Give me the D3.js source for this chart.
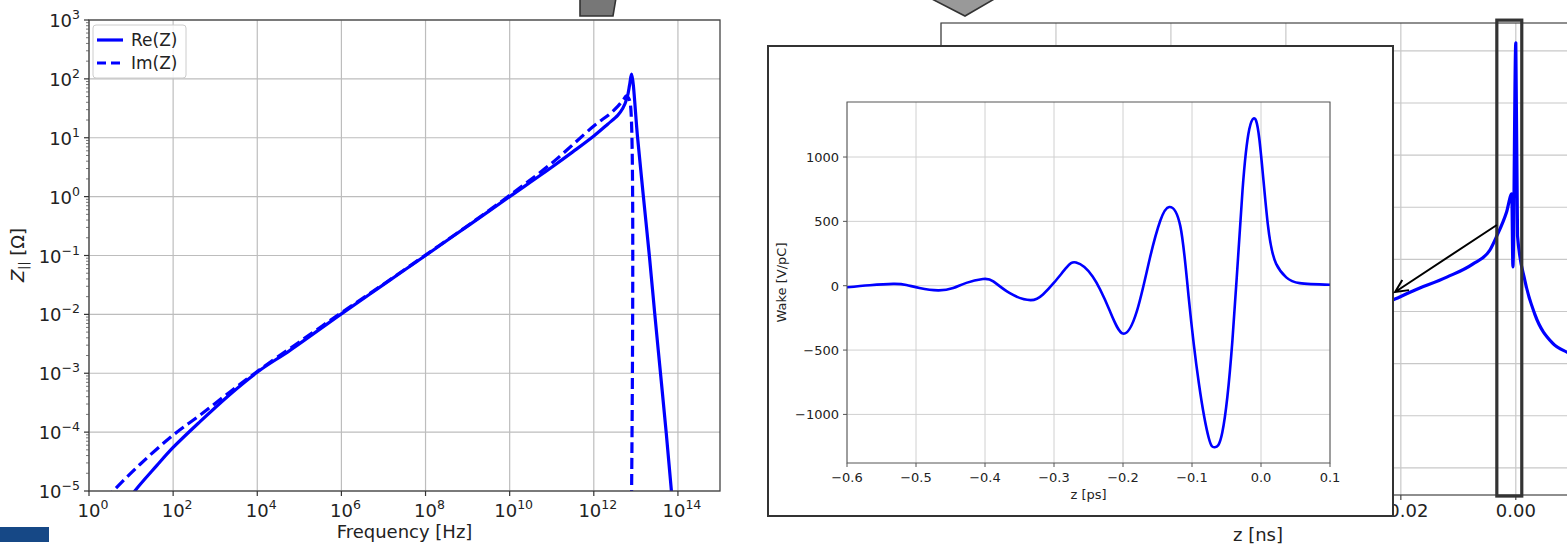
<!DOCTYPE html>
<html><head><meta charset="utf-8">
<script src="https://cdn.jsdelivr.net/npm/d3@7"></script>
<style>
html,body{margin:0;padding:0;background:#fff;}
svg{display:block;font-family:"DejaVu Sans",sans-serif;}
</style></head><body>
<svg id="c" width="1567" height="544"></svg>
<script>
// ---------------- Impedance (left chart) ----------------
const reFreq = [9, 12.3, 40.7, 1e2, 436, 2240, 1.05e4, 6.0e4, 1e6, 1e7, 1e8, 1e9, 1e10, 1e11, 3.16e11, 1e12, 2.14e12, 3.7e12, 4.9e12, 6.2e12, 7.1e12, 7.9e12, 1.1e13, 1.51e13, 2.09e13, 2.82e13, 3.85e13, 5.25e13, 7.0e13, 9e13];
const reZ    = [7e-6, 1e-5, 2.7e-5, 5.5e-5, 1.51e-4, 4.37e-4, 1.07e-3, 2.45e-3, 1.02e-2, 3.2e-2, 0.1, 0.316, 1.0, 3.16, 5.75, 10.7, 17, 24, 31.6, 48, 79, 120, 10, 1, 0.1, 0.01, 1e-3, 1e-4, 1e-5, 1e-6];
const imFreq = [2.5, 3.8, 16.2, 1e2, 436, 2240, 1.05e4, 1e5, 1e6, 1e7, 1e8, 1e9, 1e10, 1e11, 1e12, 2.45e12, 3.8e12, 5.2e12, 5.9e12, 6.6e12, 7.4e12, 7.45e12];
const imZ    = [7e-6, 1e-5, 2.82e-5, 8.9e-5, 1.95e-4, 4.8e-4, 1.1e-3, 3.4e-3, 1.07e-2, 3.25e-2, 0.102, 0.32, 1.05, 3.7, 15.8, 25.7, 34.7, 45.7, 51.3, 47.9, 37, 1e-7];
const freqTicks = [1e0, 1e2, 1e4, 1e6, 1e8, 1e10, 1e12, 1e14];
const zTicks = [1e-5, 1e-4, 1e-3, 1e-2, 1e-1, 1e0, 1e1, 1e2, 1e3];
const seriesNames = ["Re(Z)", "Im(Z)"];

// ---------------- Wake inset ----------------
const wakeZps = [-0.6, -0.567, -0.533, -0.514, -0.495, -0.468, -0.446, -0.427, -0.403, -0.388, -0.364, -0.334, -0.316, -0.3, -0.282, -0.268, -0.244, -0.2195, -0.2, -0.18, -0.161, -0.146, -0.133, -0.117, -0.105, -0.09, -0.0756, -0.067, -0.0561, -0.0415, -0.0268, -0.017, -0.0107, -0.0024, 0.0098, 0.022, 0.0366, 0.056, 0.1];
const wakeVal = [-12, 4, 14, 6, -18, -36, -18, 22, 52, 34, -58, -112, -68, 24, 140, 180, 72, -190, -372, -200, 215, 505, 612, 465, -80, -760, -1185, -1255, -1140, -430, 740, 1215, 1300, 1140, 480, 170, 65, 20, 8];
const wakeTicksX = [-0.6, -0.5, -0.4, -0.3, -0.2, -0.1, 0.0, 0.1];
const wakeTicksY = [-1000, -500, 0, 500, 1000];

// ---------------- Long-range wake (background) ----------------
const longZns = [-0.1, -0.08, -0.06, -0.04, -0.03, -0.0214, -0.0179, -0.012, -0.0075, -0.0045, -0.0033, -0.0016, -0.0007, -0.0005, 0.0, 0.0003, 0.0016, 0.0033, 0.0064, 0.0089, 0.0103];
const longVal = [20, 40, 80, 140, 190, 244, 279, 332, 382, 436, 490, 582, 651, 371, 1231, 490, 317, 190, 79, 44, 30];
const longTicksX = [-0.10, -0.08, -0.06, -0.04, -0.02, 0.00];
const longTicksY = [-400, -200, 0, 200, 400, 600, 800, 1000, 1200];

const svg = d3.select("#c");
const blue = "#0000ff";
const fontTick = 18;

// ================= Background long-range wake plot =================
const xB = d3.scaleLinear().domain([-0.1, 0.0103]).range([941, 1575]);
const yB = d3.scaleLinear().domain([-504, 1307]).range([495, 23]);
svg.append("clipPath").attr("id","clipB").append("rect")
  .attr("x", xB.range()[0]).attr("y", yB.range()[1])
  .attr("width", xB.range()[1]-xB.range()[0]).attr("height", yB.range()[0]-yB.range()[1]);
const gB = svg.append("g");
gB.append("g").selectAll("line").data(longTicksX).join("line")
  .attr("x1", d=>xB(d)).attr("x2", d=>xB(d)).attr("y1", yB.range()[1]).attr("y2", yB.range()[0])
  .attr("stroke", "#c8c8c8").attr("stroke-width", 1.2);
gB.append("g").selectAll("line").data(longTicksY).join("line")
  .attr("x1", xB.range()[0]).attr("x2", xB.range()[1]).attr("y1", d=>yB(d)).attr("y2", d=>yB(d))
  .attr("stroke", "#c8c8c8").attr("stroke-width", 1.2);
gB.append("path").datum(longZns.map((z,i)=>[z,longVal[i]]))
  .attr("clip-path","url(#clipB)")
  .attr("fill","none").attr("stroke",blue).attr("stroke-width",3.2).attr("stroke-linejoin","round")
  .attr("d", d3.line().x(d=>xB(d[0])).y(d=>yB(d[1])).curve(d3.curveMonotoneX));
gB.append("rect").attr("x", xB.range()[0]).attr("y", yB.range()[1])
  .attr("width", xB.range()[1]-xB.range()[0]).attr("height", yB.range()[0]-yB.range()[1])
  .attr("fill","none").attr("stroke","#444").attr("stroke-width",1.2);
gB.append("g").selectAll("line").data(longTicksX).join("line")
  .attr("x1", d=>xB(d)).attr("x2", d=>xB(d)).attr("y1", yB.range()[0]).attr("y2", yB.range()[0]+5)
  .attr("stroke","#444").attr("stroke-width",1.2);
gB.append("g").selectAll("text").data(longTicksX).join("text")
  .attr("x", d=>xB(d)).attr("y", yB.range()[0]+22).attr("text-anchor","middle")
  .attr("font-size", fontTick).attr("fill","#222").text(d=>d3.format(".2f")(d));
// only the top y tick label peeks out above the inset; the rest lie fully under it
gB.append("g").selectAll("text").data(longTicksY.slice(-1)).join("text")
  .attr("x", xB.range()[0]-8).attr("y", d=>yB(d)+7).attr("text-anchor","end")
  .attr("font-size", fontTick).attr("fill","#222").text(d=>d3.format("d")(d));
gB.append("text").attr("x", (xB.range()[0]+xB.range()[1])/2).attr("y", 541)
  .attr("text-anchor","middle").attr("font-size",18).attr("fill","#222").text("z [ns]");

// spike highlight rectangle
gB.append("rect")
  .attr("x", xB(-0.0033)).attr("y", yB(1318))
  .attr("width", xB(0.00104)-xB(-0.0033)).attr("height", yB(-508)-yB(1318))
  .attr("fill","none").attr("stroke","#333").attr("stroke-width",3.2);

// ================= Inset =================
const gI = svg.append("g");
gI.append("rect").attr("x",768).attr("y",46).attr("width",625).attr("height",470)
  .attr("fill","#fff").attr("stroke","#333").attr("stroke-width",2);
const xI = d3.scaleLinear().domain([-0.6, 0.1]).range([847, 1330]);
const yI = d3.scaleLinear().domain([-1377.5, 1427.5]).range([463, 102]);
gI.append("g").selectAll("line").data(wakeTicksX).join("line")
  .attr("x1", d=>xI(d)).attr("x2", d=>xI(d)).attr("y1", yI.range()[1]).attr("y2", yI.range()[0])
  .attr("stroke","#d0d0d0").attr("stroke-width",1);
gI.append("g").selectAll("line").data(wakeTicksY).join("line")
  .attr("x1", xI.range()[0]).attr("x2", xI.range()[1]).attr("y1", d=>yI(d)).attr("y2", d=>yI(d))
  .attr("stroke","#d0d0d0").attr("stroke-width",1);
gI.append("path").datum(wakeZps.map((z,i)=>[z,wakeVal[i]]))
  .attr("fill","none").attr("stroke",blue).attr("stroke-width",2.6).attr("stroke-linejoin","round")
  .attr("d", d3.line().x(d=>xI(d[0])).y(d=>yI(d[1])).curve(d3.curveNatural));
gI.append("rect").attr("x", xI.range()[0]).attr("y", yI.range()[1])
  .attr("width", xI.range()[1]-xI.range()[0]).attr("height", yI.range()[0]-yI.range()[1])
  .attr("fill","none").attr("stroke","#555").attr("stroke-width",1);
gI.append("g").selectAll("line").data(wakeTicksX).join("line")
  .attr("x1", d=>xI(d)).attr("x2", d=>xI(d)).attr("y1", yI.range()[0]).attr("y2", yI.range()[0]+4)
  .attr("stroke","#555");
gI.append("g").selectAll("line").data(wakeTicksY).join("line")
  .attr("x1", xI.range()[0]-4).attr("x2", xI.range()[0]).attr("y1", d=>yI(d)).attr("y2", d=>yI(d))
  .attr("stroke","#555");
gI.append("g").selectAll("text").data(wakeTicksX).join("text")
  .attr("x", d=>xI(d)).attr("y", yI.range()[0]+19).attr("text-anchor","middle")
  .attr("font-size",13).attr("fill","#222").text(d=>d3.format(".1f")(d));
gI.append("g").selectAll("text").data(wakeTicksY).join("text")
  .attr("x", xI.range()[0]-8).attr("y", d=>yI(d)+5).attr("text-anchor","end")
  .attr("font-size",13).attr("fill","#222").text(d=>d3.format("d")(d));
gI.append("text").attr("x",(xI.range()[0]+xI.range()[1])/2).attr("y",499)
  .attr("text-anchor","middle").attr("font-size",13).attr("fill","#222").text("z [ps]");
gI.append("text").attr("transform",`translate(786,${(yI.range()[0]+yI.range()[1])/2}) rotate(-90)`)
  .attr("text-anchor","middle").attr("font-size",13).attr("fill","#222").text("Wake [V/pC]");

// arrow from spike region to inset
const ax0 = xB(-0.0033), ay0 = yB(532), ax1 = xB(-0.021), ay1 = yB(275);
const ang = Math.atan2(ay0-ay1, ax0-ax1);
const hl = 14, ha = 0.45;
svg.append("path")
  .attr("d", `M${ax0},${ay0}L${ax1},${ay1}M${ax1+hl*Math.cos(ang-ha)},${ay1+hl*Math.sin(ang-ha)}L${ax1},${ay1}L${ax1+hl*Math.cos(ang+ha)},${ay1+hl*Math.sin(ang+ha)}`)
  .attr("fill","none").attr("stroke","#000").attr("stroke-width",2);

// ================= Left impedance chart =================
const xL = d3.scaleLog().domain([1, 1e15]).range([89, 720]);
const yL = d3.scaleLog().domain([1e-5, 1e3]).range([491, 20]);
const gL = svg.append("g");
svg.append("clipPath").attr("id","clipL").append("rect")
  .attr("x",89).attr("y",20).attr("width",631).attr("height",471);
gL.append("g").selectAll("line").data(freqTicks).join("line")
  .attr("x1", d=>xL(d)).attr("x2", d=>xL(d)).attr("y1", 20).attr("y2", 491)
  .attr("stroke","#bdbdbd").attr("stroke-width",1.2);
gL.append("g").selectAll("line").data(zTicks).join("line")
  .attr("x1", 89).attr("x2", 720).attr("y1", d=>yL(d)).attr("y2", d=>yL(d))
  .attr("stroke","#bdbdbd").attr("stroke-width",1.2);
const lineL = d3.line().x(d=>xL(d[0])).y(d=>yL(d[1])).curve(d3.curveCatmullRom.alpha(0.5));
gL.append("path").datum(reFreq.map((f,i)=>[f,reZ[i]]))
  .attr("clip-path","url(#clipL)").attr("fill","none").attr("stroke",blue)
  .attr("stroke-width",3.2).attr("stroke-linejoin","round").attr("d", lineL);
gL.append("path").datum(imFreq.map((f,i)=>[f,imZ[i]]))
  .attr("clip-path","url(#clipL)").attr("fill","none").attr("stroke",blue)
  .attr("stroke-width",3.2).attr("stroke-dasharray","11,5").attr("d", lineL);
gL.append("rect").attr("x",89).attr("y",20).attr("width",631).attr("height",471)
  .attr("fill","none").attr("stroke","#444").attr("stroke-width",1.3);
gL.append("g").selectAll("line").data(freqTicks).join("line")
  .attr("x1", d=>xL(d)).attr("x2", d=>xL(d)).attr("y1", 491).attr("y2", 496).attr("stroke","#333").attr("stroke-width",1.2);
gL.append("g").selectAll("line").data(zTicks).join("line")
  .attr("x1", 84).attr("x2", 89).attr("y1", d=>yL(d)).attr("y2", d=>yL(d)).attr("stroke","#333").attr("stroke-width",1.2);
const minorY = [];
zTicks.slice(0,-1).forEach(t=>{ for(let k=2;k<=9;k++) minorY.push(t*k); });
gL.append("g").selectAll("line").data(minorY).join("line")
  .attr("x1", 86).attr("x2", 89).attr("y1", d=>yL(d)).attr("y2", d=>yL(d)).attr("stroke","#555").attr("stroke-width",0.8);
function powLabel(sel, xf, yf, anchor){
  sel.each(function(d){
    const e = Math.round(Math.log10(d));
    const t = d3.select(this).append("text").attr("x", xf(d)).attr("y", yf(d))
      .attr("text-anchor", anchor).attr("font-size", fontTick).attr("fill","#222");
    t.append("tspan").text("10");
    t.append("tspan").attr("dy",-8).attr("font-size",12.5).text(e<0 ? "\u2212"+(-e) : String(e));
  });
}
gL.append("g").selectAll("g").data(freqTicks).join("g")
  .call(powLabel, d=>xL(d)+4, d=>517, "middle");
gL.append("g").selectAll("g").data(zTicks).join("g")
  .call(powLabel, d=>80, d=>yL(d)+7, "end");
gL.append("text").attr("x",(89+720)/2).attr("y",538).attr("text-anchor","middle")
  .attr("font-size",18).attr("fill","#222").text("Frequency [Hz]");
const yl = gL.append("text").attr("transform","translate(24,255) rotate(-90)")
  .attr("text-anchor","middle").attr("font-size",18).attr("fill","#222");
yl.append("tspan").attr("font-style","italic").text("Z");
yl.append("tspan").attr("font-size",12).attr("dy",4).text("||");
yl.append("tspan").attr("dy",-4).text(" [Ω]");
const lg = gL.append("g");
lg.append("rect").attr("x",93).attr("y",25).attr("width",93).attr("height",53).attr("rx",3)
  .attr("fill","#fff").attr("fill-opacity",0.85).attr("stroke","#cccccc");
seriesNames.forEach((n,i)=>{
  const yy = 40 + i*23;
  lg.append("line").attr("x1",97).attr("x2",123).attr("y1",yy).attr("y2",yy)
    .attr("stroke",blue).attr("stroke-width",3.2).attr("stroke-dasharray", i===1 ? "9,5" : null);
  lg.append("text").attr("x",131).attr("y",yy+6).attr("font-size",17).attr("fill","#222").text(n);
});

// ================= Slide decorations =================
const deco = svg.append("g");
deco.append("path").attr("d","M580,-2L616,-2L613,16L580,16Z").attr("fill","#777").attr("stroke","#333").attr("stroke-width",1.6);
deco.append("path").attr("d","M930,-2L996,-2L965,16Z").attr("fill","#999").attr("stroke","#333").attr("stroke-width",1.6);
deco.append("rect").attr("x",0).attr("y",527).attr("width",49).attr("height",15).attr("fill","#164886");
</script>
</body></html>
